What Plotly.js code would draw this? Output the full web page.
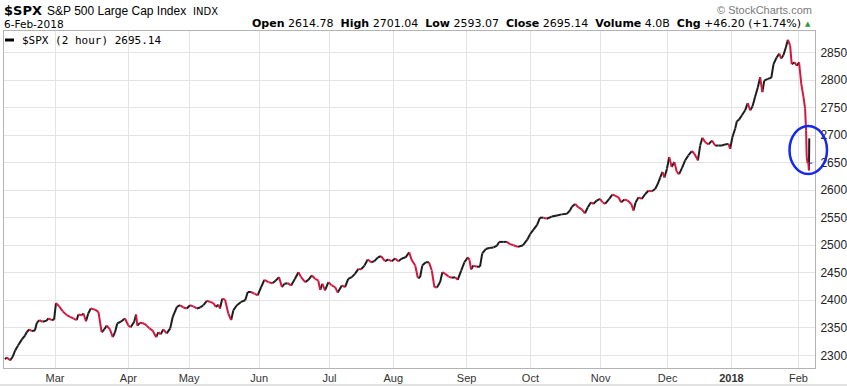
<!DOCTYPE html>
<html>
<head>
<meta charset="utf-8">
<script src="https://cdn.plot.ly/plotly-3.0.1.min.js"></script>
<style>
  html, body { margin: 0; padding: 0; background: #ffffff; }
  #chart { width: 847px; height: 386px; }
</style>
</head>
<body>
<div id="chart"></div>
<script>
// ---- Data (trading-day index, 0 = 1-Mar-2017; 2-hour closes) ----
const day = [
  -15.7,-15.1,-14.1,-13.3,-12.5,-11.6,-10.4,-9.4,-8.9,-8.1,-7.3,-6.3,-5.7,-4.9,-3.9,-2.6,-2.1,-1.0,-0.3,
  0.3,1.3,2.4,3.7,4.7,5.7,6.8,7.3,8.4,8.9,9.7,10.4,11.2,12.5,13.6,14.6,15.4,16.2,17.2,18.1,18.8,19.5,20.6,21.9,
  23.0,23.7,24.8,25.4,25.8,26.6,27.9,28.7,29.6,30.6,31.7,32.4,33.1,33.9,35.0,36.1,36.9,38.2,39.2,40.2,41.3,
  42.3,43.4,44.4,45.5,46.5,47.6,48.6,49.6,50.4,51.2,51.7,52.4,53.3,54.3,55.2,55.9,57.0,58.3,59.6,60.4,61.4,62.5,63.5,
  64.6,65.6,66.9,68.1,69.2,70.2,71.1,71.9,72.9,74.0,75.2,76.3,77.1,78.4,79.4,80.5,81.5,82.5,83.1,83.8,84.6,85.7,
  86.7,87.8,88.6,89.9,90.9,91.9,93.0,94.0,95.1,95.9,97.0,98.0,99.1,100.1,101.2,102.2,103.4,104.5,105.5,
  106.6,107.6,108.7,109.9,111.0,111.8,112.9,113.7,114.4,115.1,116.2,117.2,118.1,118.9,119.7,120.7,121.4,122.3,123.3,124.4,125.4,126.2,127.3,128.3,
  129.4,129.9,130.4,131.1,132.2,133.2,133.9,135.0,136.1,137.4,138.5,139.2,140.5,141.6,142.6,143.7,145.1,146.7,148.0,
  148.9,149.9,151.1,152.0,153.1,154.1,155.7,157.3,158.8,160.4,161.4,162.0,163.0,164.0,165.1,166.1,167.0,168.0,168.7,169.8,170.8,
  171.6,172.4,173.7,174.7,175.5,176.6,177.4,178.5,179.5,180.6,181.3,182.0,182.9,183.9,185.0,186.0,187.1,188.1,188.9,189.7,190.4,191.0,191.8,
  192.5,193.3,194.1,194.9,195.6,196.5,197.5,198.5,199.6,200.4,201.5,202.2,202.9,203.8,204.8,205.9,206.9,207.9,209.0,210.0,211.1,211.6,
  212.3,213.2,213.7,214.4,215.3,216.3,217.1,217.9,218.6,219.4,220.3,221.0,221.7,222.3,223.4,224.5,225.2,226.2,227.0,227.6,228.3,229.1,229.7,230.4,230.9,231.8,232.5,
  233.2,233.9,234.6,235.1,235.4,235.6,235.9,236.1,236.3,236.4
];
const close = [
  2293,2296,2291,2297,2309,2318,2329,2336,2342,2347,2344,2345,2359,2364,2361,2363,2367,2364,2365,
  2395,2389,2380,2373,2370,2367,2364,2374,2373,2376,2362,2376,2385,2383,2379,2342,2347,2354,2347,2333,2342,2358,2361,2367,
  2354,2351,2361,2374,2354,2359,2358,2354,2349,2345,2333,2342,2338,2347,2340,2349,2370,2388,2391,2387,2385,
  2391,2389,2385,2387,2391,2399,2397,2395,2388,2392,2385,2403,2401,2376,2364,2382,2391,2397,2400,2415,2415,2412,2409,
  2424,2437,2433,2431,2436,2442,2424,2430,2431,2427,2439,2451,2442,2433,2437,2445,2439,2436,2419,2430,2418,2433,
  2427,2424,2414,2427,2424,2439,2442,2448,2457,2456,2463,2474,2469,2471,2478,2480,2471,2474,2471,
  2476,2471,2476,2478,2487,2473,2463,2441,2441,2463,2469,2469,2454,2424,2423,2433,2451,2448,2443,2441,2442,2437,2454,2469,
  2478,2473,2456,2463,2461,2461,2485,2493,2495,2496,2499,2506,2506,2506,2502,2500,2497,2500,2510,
  2520,2528,2537,2550,2550,2548,2552,2554,2556,2557,2563,2570,2575,2569,2565,2558,2569,2578,2575,2581,2584,
  2578,2575,2584,2592,2590,2587,2578,2583,2581,2575,2563,2578,2587,2584,2593,2599,2598,2602,2611,2623,2633,2623,2639,
  2660,2642,2651,2633,2629,2640,2654,2663,2671,2666,2654,2681,2695,2687,2683,2690,2681,2681,2681,2683,2684,2675,
  2696,2712,2725,2728,2736,2745,2758,2745,2752,2769,2787,2805,2778,2799,2802,2804,2829,2841,2848,2839,2845,2860,2873,2863,2829,2832,2826,
  2832,2793,2769,2748,2708,2660,2649,2651,2636,2694
];
const monthTickDays = [0, 23, 42, 64, 86, 106, 129, 149, 171, 192, 212, 233];
const monthTickLabels = ["Mar","Apr","May","Jun","Jul","Aug","Sep","Oct","Nov","Dec","<b>2018</b>","Feb"];
const priceTicks = [2300, 2350, 2400, 2450, 2500, 2550, 2600, 2650, 2700, 2750, 2800, 2850];
const lastLevel = 2649;

// ---- Split the line into rising (black) and falling (red) segments ----
const upX = [], upY = [], dnX = [], dnY = [];
for (let i = 1; i < close.length; i++) {
  const rising = close[i] >= close[i - 1];
  const tx = rising ? upX : dnX, ty = rising ? upY : dnY;
  tx.push(day[i - 1], day[i], null);
  ty.push(close[i - 1], close[i], null);
}

const traces = [
  { x: upX, y: upY, type: 'scatter', mode: 'lines', connectgaps: false,
    line: { color: '#1c1c1c', width: 2 }, hoverinfo: 'skip', showlegend: false },
  { x: dnX, y: dnY, type: 'scatter', mode: 'lines', connectgaps: false,
    line: { color: '#d5173f', width: 2 }, hoverinfo: 'skip', showlegend: false }
];

// ---- Layout helpers (pixel -> paper) ----
const L = 4, R = 815, T = 31, B = 368;
const px = v => (v - L) / (R - L);
const py = v => (B - v) / (B - T);

const annotations = [
  { text: '<b>$SPX</b>', x: px(3), y: py(10.5), xanchor: 'left', yanchor: 'middle',
    font: { family: 'DejaVu Sans', size: 13, color: '#000' } },
  { text: 'S&P 500 Large Cap Index', x: px(46), y: py(11), xanchor: 'left', yanchor: 'middle',
    font: { family: 'Liberation Sans', size: 12, color: '#000' } },
  { text: 'INDX', x: px(192), y: py(11.5), xanchor: 'left', yanchor: 'middle',
    font: { family: 'DejaVu Sans', size: 10, color: '#000' } },
  { text: '6-Feb-2018', x: px(3), y: py(24.5), xanchor: 'left', yanchor: 'middle',
    font: { family: 'DejaVu Sans', size: 10.5, color: '#000' } },
  { text: '<b>Open</b> 2614.78  <b>High</b> 2701.04  <b>Low</b> 2593.07  <b>Close</b> 2695.14  <b>Volume</b> 4.0B  <b>Chg</b> +46.20 (+1.74%)',
    x: px(802), y: py(23.5), xanchor: 'right', yanchor: 'middle',
    font: { family: 'DejaVu Sans', size: 11, color: '#000' } },
  { text: '▲', x: px(804), y: py(24), xanchor: 'left', yanchor: 'middle',
    font: { family: 'DejaVu Sans', size: 7, color: '#2f9a2f' } },
  { text: '© StockCharts.com', x: px(813), y: py(9.5), xanchor: 'right', yanchor: 'middle',
    font: { family: 'Liberation Sans', size: 11, color: '#7a7a7a' } },
  { text: '$SPX (2 hour) 2695.14', x: px(21), y: py(40), xanchor: 'left', yanchor: 'middle',
    font: { family: 'DejaVu Sans Mono', size: 11, color: '#000' } }
].map(a => Object.assign({ xref: 'paper', yref: 'paper', showarrow: false, borderpad: 0 }, a));

const shapes = [
  // legend line sample
  { type: 'line', xref: 'paper', yref: 'paper', x0: px(5), x1: px(14), y0: py(40), y1: py(40),
    line: { color: '#000', width: 3 } },
  // last value dotted marker
  { type: 'line', xref: 'x', yref: 'y', x0: day[day.length - 1], x1: 238.2, y0: lastLevel, y1: lastLevel,
    line: { color: '#1a2cf0', width: 1, dash: 'dot' } },
  // highlight ellipse
  { type: 'circle', xref: 'paper', yref: 'paper', x0: px(789.5), x1: px(827), y0: py(174), y1: py(126),
    line: { color: '#1428f0', width: 2.5 } },
  // bottom rule
  { type: 'line', xref: 'paper', yref: 'paper', x0: -0.01, x1: px(847), y0: py(385), y1: py(385),
    line: { color: '#d8d8d8', width: 1.5 } }
];

const layout = {
  width: 847, height: 386,
  margin: { l: L, r: 847 - R, t: T, b: 386 - B, pad: 0 },
  paper_bgcolor: '#ffffff', plot_bgcolor: '#ffffff',
  showlegend: false,
  xaxis: {
    range: [-16.0, 238.2], fixedrange: true,
    tickmode: 'array', tickvals: monthTickDays, ticktext: monthTickLabels,
    showgrid: true, gridcolor: '#e3e3e3', gridwidth: 1,
    zeroline: false, showline: true, linecolor: '#b4b4b4', linewidth: 1, mirror: true,
    ticks: '', tickfont: { family: 'Liberation Sans Narrow, Arial Narrow, Liberation Sans', size: 11, color: '#333' }
  },
  yaxis: {
    range: [2277, 2889], fixedrange: true, side: 'right',
    tickmode: 'array', tickvals: priceTicks, ticktext: priceTicks.map(String),
    showgrid: true, gridcolor: '#e3e3e3', gridwidth: 1,
    zeroline: false, showline: true, linecolor: '#b4b4b4', linewidth: 1, mirror: true,
    ticks: '', ticklabelstandoff: 2,
    tickfont: { family: 'Liberation Sans', size: 12, color: '#222' }
  },
  annotations: annotations,
  shapes: shapes
};

Plotly.newPlot('chart', traces, layout, { staticPlot: true, displayModeBar: false });
</script>
</body>
</html>
